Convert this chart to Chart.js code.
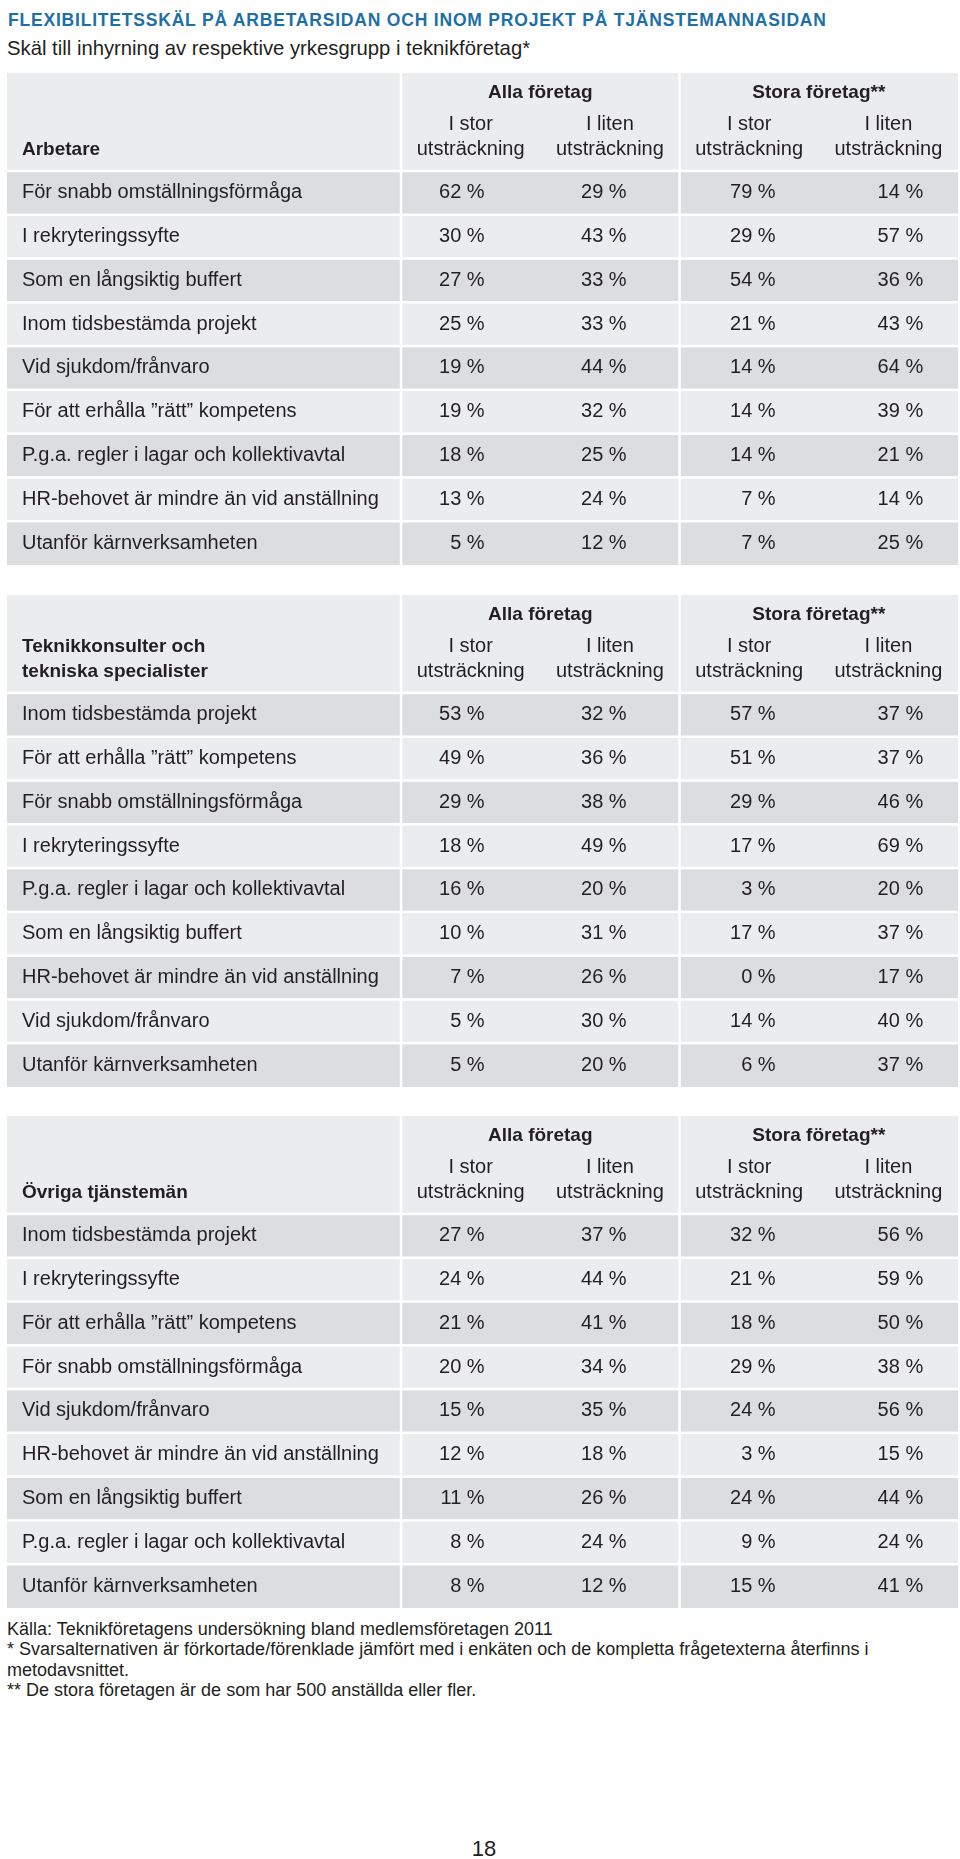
<!DOCTYPE html>
<html lang="sv">
<head>
<meta charset="utf-8">
<title>Flexibilitetsskäl på arbetarsidan och inom projekt på tjänstemannasidan</title>
<script src="https://cdn.jsdelivr.net/npm/chart.js@4.4.1/dist/chart.umd.min.js"></script>
<style>
  html, body { margin: 0; padding: 0; background: #fff; }
  body {
    position: relative; width: 960px; height: 1859px; overflow: hidden;
    font-family: "Liberation Sans", Arial, sans-serif; color: #231f20;
  }
  .title {
    position: absolute; left: 8px; top: 10px; white-space: nowrap;
    font-size: 17.5px; line-height: 20px; font-weight: bold; letter-spacing: 0.8px; color: #1d6fa6;
  }
  .subtitle { position: absolute; left: 7px; top: 36px; font-size: 20.3px; line-height: 24px; white-space: nowrap; }
  .table-box { position: absolute; left: 0; width: 960px; height: 492px; }
  .notes { position: absolute; left: 7px; top: 1619px; font-size: 18px; line-height: 20.3px; }
  .page { position: absolute; left: 0; width: 968px; top: 1837px; text-align: center; font-size: 22px; line-height: 24px; }
</style>
</head>
<body>
<div class="title">FLEXIBILITETSSKÄL PÅ ARBETARSIDAN OCH INOM PROJEKT PÅ TJÄNSTEMANNASIDAN</div>
<div class="subtitle">Skäl till inhyrning av respektive yrkesgrupp i teknikföretag*</div>

<div class="table-box" style="top:73px"><canvas id="arbetare"></canvas></div>
<div class="table-box" style="top:595px"><canvas id="teknik"></canvas></div>
<div class="table-box" style="top:1116px"><canvas id="ovriga"></canvas></div>

<div class="notes">
  Källa: Teknikföretagens undersökning bland medlemsföretagen 2011<br>
  * Svarsalternativen är förkortade/förenklade jämfört med i enkäten och de kompletta frågetexterna återfinns i<br>
  metodavsnittet.<br>
  ** De stora företagen är de som har 500 anställda eller fler.
</div>
<div class="page">18</div>

<script>
// rubriker
const groupLabels = ['Alla företag', 'Stora företag**'];
const columnLabels = [['I stor', 'utsträckning'], ['I liten', 'utsträckning'], ['I stor', 'utsträckning'], ['I liten', 'utsträckning']];

// Arbetare
const arbetareTitle = ['Arbetare'];
const arbetareReasons = [
    'För snabb omställningsförmåga', 'I rekryteringssyfte', 'Som en långsiktig buffert',
    'Inom tidsbestämda projekt', 'Vid sjukdom/frånvaro', 'För att erhålla ”rätt” kompetens',
    'P.g.a. regler i lagar och kollektivavtal', 'HR-behovet är mindre än vid anställning', 'Utanför kärnverksamheten'
];
const arbetareAllaStor   = [62, 30, 27, 25, 19, 19, 18, 13, 5];
const arbetareAllaLiten  = [29, 43, 33, 33, 44, 32, 25, 24, 12];
const arbetareStoraStor  = [79, 29, 54, 21, 14, 14, 14, 7, 7];
const arbetareStoraLiten = [14, 57, 36, 43, 64, 39, 21, 14, 25];

// Teknikkonsulter och tekniska specialister
const teknikTitle = ['Teknikkonsulter och', 'tekniska specialister'];
const teknikReasons = [
    'Inom tidsbestämda projekt', 'För att erhålla ”rätt” kompetens', 'För snabb omställningsförmåga',
    'I rekryteringssyfte', 'P.g.a. regler i lagar och kollektivavtal', 'Som en långsiktig buffert',
    'HR-behovet är mindre än vid anställning', 'Vid sjukdom/frånvaro', 'Utanför kärnverksamheten'
];
const teknikAllaStor   = [53, 49, 29, 18, 16, 10, 7, 5, 5];
const teknikAllaLiten  = [32, 36, 38, 49, 20, 31, 26, 30, 20];
const teknikStoraStor  = [57, 51, 29, 17, 3, 17, 0, 14, 6];
const teknikStoraLiten = [37, 37, 46, 69, 20, 37, 17, 40, 37];

// Övriga tjänstemän
const ovrigaTitle = ['Övriga tjänstemän'];
const ovrigaReasons = [
    'Inom tidsbestämda projekt', 'I rekryteringssyfte', 'För att erhålla ”rätt” kompetens',
    'För snabb omställningsförmåga', 'Vid sjukdom/frånvaro', 'HR-behovet är mindre än vid anställning',
    'Som en långsiktig buffert', 'P.g.a. regler i lagar och kollektivavtal', 'Utanför kärnverksamheten'
];
const ovrigaAllaStor   = [27, 24, 21, 20, 15, 12, 11, 8, 8];
const ovrigaAllaLiten  = [37, 44, 41, 34, 35, 18, 26, 24, 12];
const ovrigaStoraStor  = [32, 21, 18, 29, 24, 3, 24, 9, 15];
const ovrigaStoraLiten = [56, 59, 50, 38, 56, 15, 44, 24, 41];

// layout (skalenheter): etikettkolumnen ligger till vänster om 0, värdekolumnerna 0..4
const X_MIN = -2.83, X_MAX = 4;
const ROW_PX = 43.8, HEADER_PX = 98;
const HEADER_UNITS = HEADER_PX / ROW_PX;
const valueAnchors = [0.6, 1.62, 2.69, 3.75];   // högerjusterade procenttal
const DARK = '#dcdddf', LIGHT = '#ebeced', TEXT = '#231f20';
const FONT = '"Liberation Sans", Arial, sans-serif';

function tablePlugin(title, reasons) {
    return {
        id: 'tableCells',
        beforeDatasetsDraw(chart) {
            const { ctx, scales: { x, y } } = chart;
            const left = x.getPixelForValue(X_MIN), right = x.getPixelForValue(X_MAX);
            const nRows = reasons.length;
            ctx.save();

            // bakgrund: rubrikrad + randiga rader
            ctx.fillStyle = LIGHT;
            ctx.fillRect(left, y.getPixelForValue(0), right - left, y.getPixelForValue(HEADER_UNITS) - y.getPixelForValue(0));
            reasons.forEach((r, i) => {
                const top = y.getPixelForValue(HEADER_UNITS + i);
                const bot = y.getPixelForValue(HEADER_UNITS + i + 1);
                ctx.fillStyle = i % 2 === 0 ? DARK : LIGHT;
                ctx.fillRect(left, top, right - left, bot - top);
            });

            // vita linjer mellan rader och kolumngrupper
            ctx.fillStyle = '#ffffff';
            for (let i = 0; i < nRows; i++) {
                const yy = y.getPixelForValue(HEADER_UNITS + i);
                ctx.fillRect(left, yy - 1.25, right - left, 2.5);
            }
            [0, 2].forEach(c => {
                const xx = x.getPixelForValue(c);
                ctx.fillRect(xx - 1.25, y.getPixelForValue(0), 2.5, y.getPixelForValue(HEADER_UNITS + nRows) - y.getPixelForValue(0));
            });

            // rubriker
            ctx.fillStyle = TEXT;
            ctx.textBaseline = 'middle';
            ctx.font = 'bold 19px ' + FONT;
            ctx.textAlign = 'center';
            groupLabels.forEach((g, k) => {
                ctx.fillText(g, x.getPixelForValue(1 + 2 * k), y.getPixelForValue(20 / ROW_PX));
            });
            ctx.textAlign = 'left';
            const titleY = title.length === 1 ? [77] : [52, 77];
            title.forEach((t, k) => ctx.fillText(t, left + 15, y.getPixelForValue(titleY[k] / ROW_PX)));

            ctx.font = '20px ' + FONT;
            ctx.textAlign = 'center';
            columnLabels.forEach((lines, c) => {
                ctx.fillText(lines[0], x.getPixelForValue(c + 0.5), y.getPixelForValue(52 / ROW_PX));
                ctx.fillText(lines[1], x.getPixelForValue(c + 0.5), y.getPixelForValue(77 / ROW_PX));
            });

            // radetiketter
            ctx.textAlign = 'left';
            reasons.forEach((r, i) => {
                ctx.fillText(r, left + 15, y.getPixelForValue(HEADER_UNITS + i + 0.5));
            });
            ctx.restore();
        },
        afterDatasetsDraw(chart) {
            const { ctx } = chart;
            ctx.save();
            ctx.fillStyle = TEXT;
            ctx.font = '20px ' + FONT;
            ctx.textAlign = 'right';
            ctx.textBaseline = 'middle';
            chart.data.datasets.forEach((ds, d) => {
                chart.getDatasetMeta(d).data.forEach((pt, i) => {
                    ctx.fillText(ds.values[i] + ' %', pt.x, pt.y);
                });
            });
            ctx.restore();
        }
    };
}

function drawTable(canvasId, title, reasons, columns) {
    const datasets = columns.map((values, c) => ({
        label: columnLabels[c].join(' '),
        values: values,
        data: values.map((v, i) => ({ x: valueAnchors[c], y: HEADER_UNITS + i + 0.5 })),
        pointRadius: 0,
        pointHoverRadius: 0
    }));

    new Chart(document.getElementById(canvasId), {
        type: 'scatter',
        data: { datasets },
        options: {
            responsive: true,
            maintainAspectRatio: false,
            animation: false,
            events: [],
            layout: { padding: { left: 7, right: 2, top: 0, bottom: 0 } },
            scales: {
                x: { type: 'linear', min: X_MIN, max: X_MAX, display: false },
                y: { type: 'linear', min: 0, max: HEADER_UNITS + reasons.length, reverse: true, display: false }
            },
            plugins: {
                legend: { display: false },
                tooltip: { enabled: false }
            }
        },
        plugins: [tablePlugin(title, reasons)]
    });
}

drawTable('arbetare', arbetareTitle, arbetareReasons,
    [arbetareAllaStor, arbetareAllaLiten, arbetareStoraStor, arbetareStoraLiten]);
drawTable('teknik', teknikTitle, teknikReasons,
    [teknikAllaStor, teknikAllaLiten, teknikStoraStor, teknikStoraLiten]);
drawTable('ovriga', ovrigaTitle, ovrigaReasons,
    [ovrigaAllaStor, ovrigaAllaLiten, ovrigaStoraStor, ovrigaStoraLiten]);
</script>
</body>
</html>
